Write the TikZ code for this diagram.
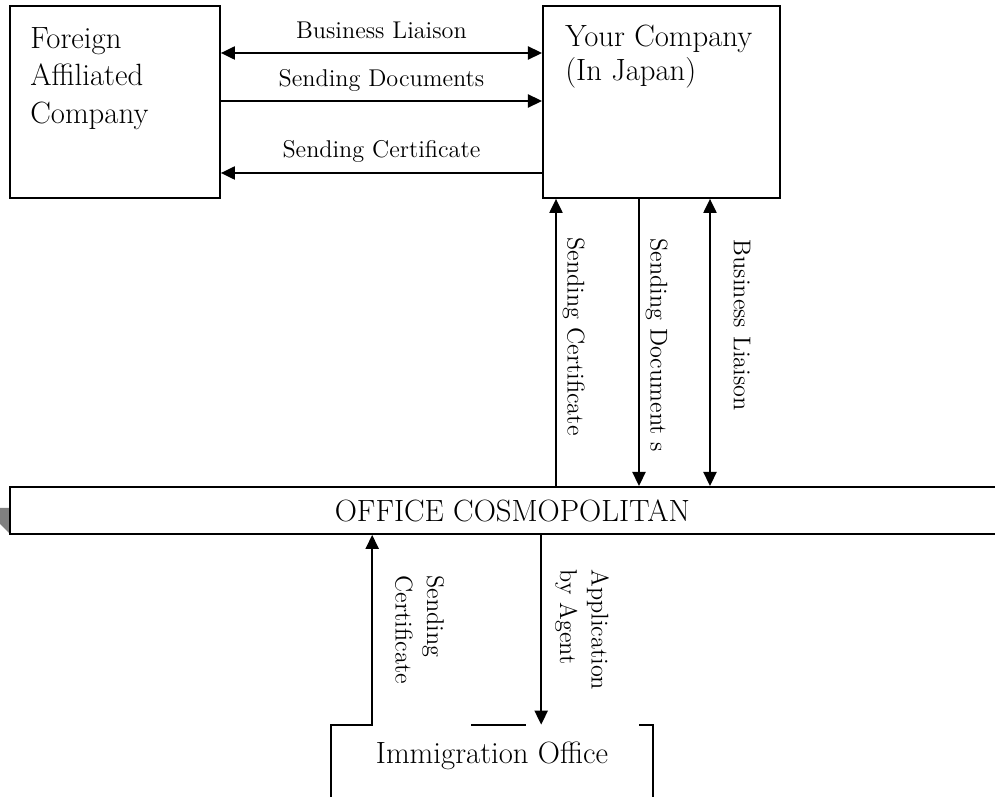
\documentclass[tikz,border=0pt]{standalone}
\usepackage{tikz}
\usetikzlibrary{arrows.meta}
\usetikzlibrary{positioning}
\tikzset{box/.style = {draw, line width=1.1pt, inner sep=0, anchor=north west}}
\tikzset{bigtxt/.style = {font=\fontsize{17.5}{21.3}\selectfont, align=left}}
\tikzset{smalltxt/.style = {font=\fontsize{13.8}{18}\selectfont, align=left}}
\tikzset{flow/.style = {line width=1pt, -{Triangle[length=8pt, width=7.5pt]}}}
\tikzset{flowboth/.style = {line width=1pt, {Triangle[length=8pt, width=7.5pt]}-{Triangle[length=8pt, width=7.5pt]}}}
\definecolor{mgray}{rgb}{0.5, 0.5, 0.5}

\begin{document}
\begin{tikzpicture}[x=0.02cm, y=-0.02cm]
      \useasboundingbox (0, 0) rectangle (995, 797);
      \clip (0, 0) rectangle (995, 797);

      \fill [mgray] (0, 508) -- (9, 508) -- (9, 533) -- (0, 524) -- cycle;

      \node [box, minimum width=4.2cm, minimum height=3.84cm] (foreign) at (9, 5) {};
      \node [box, minimum width=4.74cm, minimum height=3.84cm] (yours) at (542, 5) {};
      \node [box, bigtxt, minimum width=20.1cm, minimum height=0.94cm] (office) at (9, 486) {OFFICE COSMOPOLITAN};
      \node [bigtxt, minimum width=6.42cm, minimum height=1.24cm, inner sep=0] (immig) at (492, 756) {Immigration Office};

      \node [bigtxt, inner sep=0, anchor=north west] (foreignlbl) at (30, 27) {Foreign\\Affiliated\\Company};
      \node [bigtxt, inner sep=0, anchor=north west, font=\fontsize{17.5}{19}\selectfont] (yourslbl) at (565, 25) {Your Company\\(In Japan)};

      \coordinate (bl) at ([shift={(0, 48)}]foreign.north east);
      \coordinate (sd) at ([shift={(0, 96)}]foreign.north east);
      \coordinate (sc) at ([shift={(0, 168)}]foreign.north east);

      \draw [flowboth] (bl) -- (bl -| yours.west) node [midway, above=4.5pt, smalltxt] {Business Liaison};
      \draw [flow] (sd) -- (sd -| yours.west) node [midway, above=1.8pt, smalltxt] {Sending Documents};
      \draw [flow] (sc -| yours.west) -- (sc) node [midway, above=2.2pt, smalltxt] {Sending Certificate};

      \coordinate (vsc) at ([shift={(14, 0)}]yours.south west);
      \coordinate (vsd) at ([shift={(97, 0)}]yours.south west);
      \coordinate (vbl) at ([shift={(168, 0)}]yours.south west);

      \draw [flow] (vsc |- office.north) -- (vsc) node [pos=0.52, rotate=-90, anchor=south, smalltxt] {Sending Certificate};
      \draw [flow] (vsd) -- (vsd |- office.north) node [pos=0.51, rotate=-90, anchor=south, smalltxt] {Sending Document s};
      \draw [flowboth] (vbl) -- (vbl |- office.north) node [pos=0.44, rotate=-90, anchor=south, inner ysep=13pt, smalltxt] {Business Liaison};

      \coordinate (certup) at ([shift={(41, 0)}]immig.north west);
      \coordinate (appl) at ([shift={(210, 0)}]immig.north west);

      \draw [flow] ([shift={(0, 20)}]immig.south west) -- (immig.north west) -- (certup) -- (certup |- office.south) node [midway, rotate=-90, anchor=south, inner ysep=12.5pt, smalltxt] {Sending\\Certificate};
      \draw [flow] (appl |- office.south) -- (appl) node [midway, rotate=-90, anchor=south, inner ysep=7.4pt, smalltxt] {Application\\by Agent};

      \draw [line width=1.1pt] ([shift={(140, 0)}]immig.north west) -- ++(55, 0);
      \draw [line width=1.1pt] ([shift={(308, 0)}]immig.north west) -- (immig.north east) -- ([shift={(0, 20)}]immig.south east);
    \end{tikzpicture}
\end{document}
